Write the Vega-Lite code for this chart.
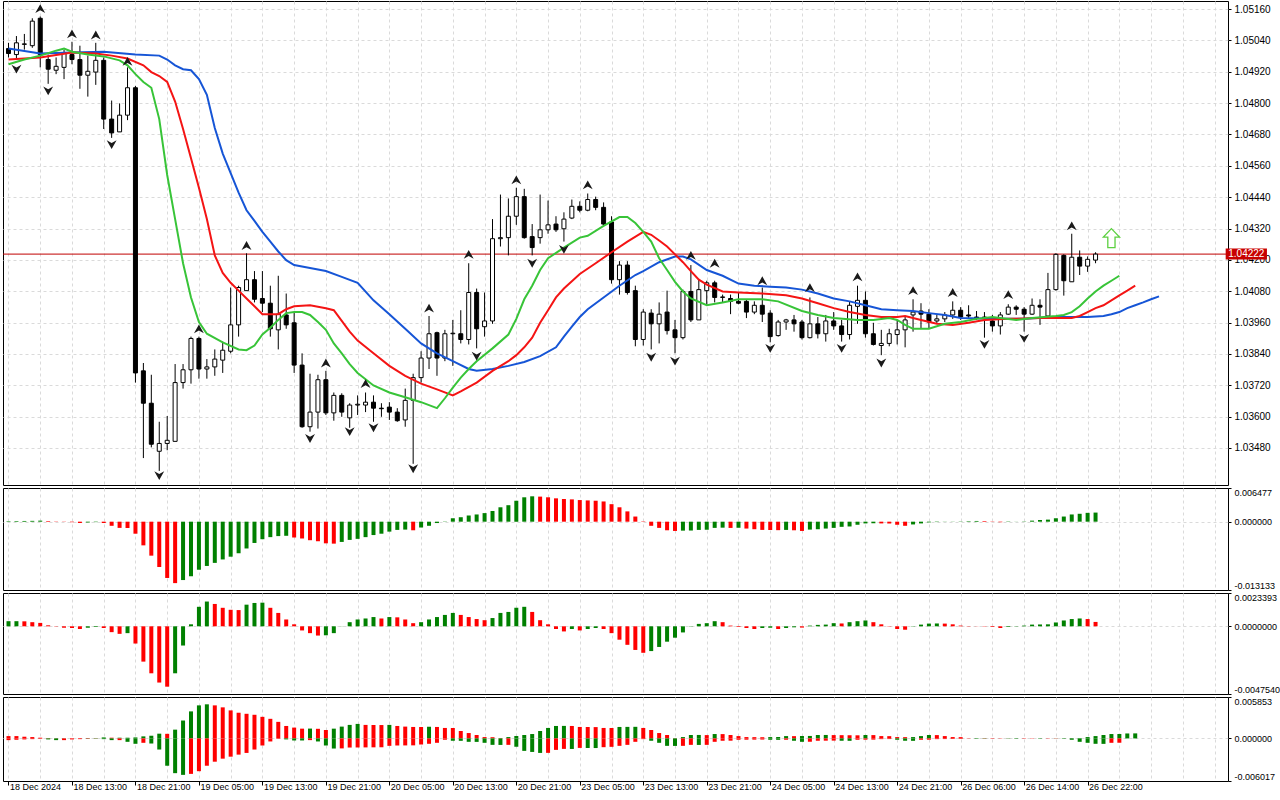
{
"$schema":"https://vega.github.io/schema/vega-lite/v6.json",
"background":"white",
"padding":{"left":2,"top":0,"right":0,"bottom":0},
"spacing":1,
"resolve":{"scale":{"color":"independent"}},
"config":{"view":{"stroke":"black","strokeWidth":1},"font":"Liberation Sans","axis":{"labelFont":"Liberation Sans","labelFontSize":9,"labelColor":"black","gridColor":"#dadada","gridDash":[3,3],"gridWidth":1,"tickColor":"black","domain":false,"labelOverlap":false,"labelSeparation":0}},
"datasets":{
"last":[{"price":1.04222}],
"signal":[{"i":139,"v":1.04283}],
"candles":[
{"i":0,"open":1.05009,"high":1.05031,"low":1.04975,"close":1.04990},
{"i":1,"open":1.04986,"high":1.05057,"low":1.04967,"close":1.05031},
{"i":2,"open":1.05025,"high":1.05065,"low":1.05005,"close":1.05027},
{"i":3,"open":1.05020,"high":1.05125,"low":1.05012,"close":1.05114},
{"i":4,"open":1.05125,"high":1.05132,"low":1.04937,"close":1.04986},
{"i":5,"open":1.04967,"high":1.04986,"low":1.04874,"close":1.04930},
{"i":6,"open":1.04926,"high":1.04975,"low":1.04911,"close":1.04941},
{"i":7,"open":1.04937,"high":1.05005,"low":1.04892,"close":1.04994},
{"i":8,"open":1.04986,"high":1.05035,"low":1.04949,"close":1.04967},
{"i":9,"open":1.04967,"high":1.05020,"low":1.04855,"close":1.04907},
{"i":10,"open":1.04907,"high":1.04982,"low":1.04825,"close":1.04922},
{"i":11,"open":1.04919,"high":1.05031,"low":1.04870,"close":1.04964},
{"i":12,"open":1.04964,"high":1.04975,"low":1.04701,"close":1.04739},
{"i":13,"open":1.04739,"high":1.04810,"low":1.04667,"close":1.04686},
{"i":14,"open":1.04690,"high":1.04799,"low":1.04690,"close":1.04754},
{"i":15,"open":1.04754,"high":1.04937,"low":1.04735,"close":1.04859},
{"i":16,"open":1.04859,"high":1.04866,"low":1.03730,"close":1.03767},
{"i":17,"open":1.03775,"high":1.03805,"low":1.03441,"close":1.03651},
{"i":18,"open":1.03651,"high":1.03760,"low":1.03482,"close":1.03494},
{"i":19,"open":1.03467,"high":1.03580,"low":1.03392,"close":1.03497},
{"i":20,"open":1.03497,"high":1.03602,"low":1.03471,"close":1.03509},
{"i":21,"open":1.03505,"high":1.03801,"low":1.03505,"close":1.03730},
{"i":22,"open":1.03730,"high":1.03801,"low":1.03707,"close":1.03779},
{"i":23,"open":1.03779,"high":1.03906,"low":1.03726,"close":1.03899},
{"i":24,"open":1.03899,"high":1.03906,"low":1.03745,"close":1.03782},
{"i":25,"open":1.03782,"high":1.03820,"low":1.03745,"close":1.03790},
{"i":26,"open":1.03790,"high":1.03857,"low":1.03756,"close":1.03820},
{"i":27,"open":1.03816,"high":1.03887,"low":1.03767,"close":1.03854},
{"i":28,"open":1.03850,"high":1.04094,"low":1.03842,"close":1.03951},
{"i":29,"open":1.03951,"high":1.04101,"low":1.03906,"close":1.04094},
{"i":30,"open":1.04082,"high":1.04225,"low":1.04082,"close":1.04124},
{"i":31,"open":1.04124,"high":1.04157,"low":1.04037,"close":1.04049},
{"i":32,"open":1.04052,"high":1.04157,"low":1.04000,"close":1.04034},
{"i":33,"open":1.04034,"high":1.04101,"low":1.03906,"close":1.03936},
{"i":34,"open":1.03932,"high":1.04139,"low":1.03857,"close":1.03992},
{"i":35,"open":1.03989,"high":1.04071,"low":1.03936,"close":1.03951},
{"i":36,"open":1.03959,"high":1.04000,"low":1.03767,"close":1.03797},
{"i":37,"open":1.03797,"high":1.03842,"low":1.03557,"close":1.03561},
{"i":38,"open":1.03561,"high":1.03764,"low":1.03542,"close":1.03617},
{"i":39,"open":1.03617,"high":1.03760,"low":1.03554,"close":1.03741},
{"i":40,"open":1.03741,"high":1.03775,"low":1.03606,"close":1.03614},
{"i":41,"open":1.03614,"high":1.03692,"low":1.03584,"close":1.03681},
{"i":42,"open":1.03681,"high":1.03689,"low":1.03599,"close":1.03617},
{"i":43,"open":1.03595,"high":1.03651,"low":1.03557,"close":1.03644},
{"i":44,"open":1.03644,"high":1.03681,"low":1.03606,"close":1.03647},
{"i":45,"open":1.03644,"high":1.03692,"low":1.03617,"close":1.03655},
{"i":46,"open":1.03655,"high":1.03681,"low":1.03580,"close":1.03632},
{"i":47,"open":1.03632,"high":1.03651,"low":1.03599,"close":1.03630},
{"i":48,"open":1.03636,"high":1.03655,"low":1.03587,"close":1.03617},
{"i":49,"open":1.03617,"high":1.03632,"low":1.03580,"close":1.03584},
{"i":50,"open":1.03587,"high":1.03707,"low":1.03561,"close":1.03662},
{"i":51,"open":1.03662,"high":1.03764,"low":1.03419,"close":1.03749},
{"i":52,"open":1.03749,"high":1.03850,"low":1.03730,"close":1.03824},
{"i":53,"open":1.03824,"high":1.03985,"low":1.03782,"close":1.03917},
{"i":54,"open":1.03921,"high":1.03925,"low":1.03756,"close":1.03824},
{"i":55,"open":1.03824,"high":1.03932,"low":1.03812,"close":1.03917},
{"i":56,"open":1.03917,"high":1.03970,"low":1.03794,"close":1.03919},
{"i":57,"open":1.03917,"high":1.04007,"low":1.03880,"close":1.03895},
{"i":58,"open":1.03895,"high":1.04187,"low":1.03876,"close":1.04075},
{"i":59,"open":1.04075,"high":1.04090,"low":1.03861,"close":1.03936},
{"i":60,"open":1.03944,"high":1.04075,"low":1.03906,"close":1.03966},
{"i":61,"open":1.03966,"high":1.04356,"low":1.03955,"close":1.04281},
{"i":62,"open":1.04281,"high":1.04450,"low":1.04251,"close":1.04285},
{"i":63,"open":1.04285,"high":1.04435,"low":1.04217,"close":1.04367},
{"i":64,"open":1.04367,"high":1.04476,"low":1.04334,"close":1.04442},
{"i":65,"open":1.04442,"high":1.04472,"low":1.04281,"close":1.04285},
{"i":66,"open":1.04289,"high":1.04337,"low":1.04217,"close":1.04247},
{"i":67,"open":1.04285,"high":1.04450,"low":1.04262,"close":1.04315},
{"i":68,"open":1.04315,"high":1.04427,"low":1.04300,"close":1.04334},
{"i":69,"open":1.04337,"high":1.04367,"low":1.04307,"close":1.04315},
{"i":70,"open":1.04319,"high":1.04382,"low":1.04270,"close":1.04356},
{"i":71,"open":1.04360,"high":1.04431,"low":1.04356,"close":1.04405},
{"i":72,"open":1.04405,"high":1.04424,"low":1.04382,"close":1.04390},
{"i":73,"open":1.04390,"high":1.04454,"low":1.04386,"close":1.04431},
{"i":74,"open":1.04431,"high":1.04442,"low":1.04390,"close":1.04401},
{"i":75,"open":1.04401,"high":1.04420,"low":1.04330,"close":1.04337},
{"i":76,"open":1.04345,"high":1.04367,"low":1.04109,"close":1.04124},
{"i":77,"open":1.04124,"high":1.04195,"low":1.04067,"close":1.04180},
{"i":78,"open":1.04180,"high":1.04195,"low":1.04067,"close":1.04075},
{"i":79,"open":1.04082,"high":1.04101,"low":1.03869,"close":1.03895},
{"i":80,"open":1.03895,"high":1.04011,"low":1.03872,"close":1.04000},
{"i":81,"open":1.03996,"high":1.04011,"low":1.03857,"close":1.03955},
{"i":82,"open":1.03955,"high":1.04037,"low":1.03880,"close":1.03992},
{"i":83,"open":1.04000,"high":1.04082,"low":1.03914,"close":1.03929},
{"i":84,"open":1.03932,"high":1.03970,"low":1.03842,"close":1.03902},
{"i":85,"open":1.03902,"high":1.04086,"low":1.03895,"close":1.04079},
{"i":86,"open":1.04079,"high":1.04180,"low":1.03962,"close":1.03970},
{"i":87,"open":1.03970,"high":1.04124,"low":1.03970,"close":1.04086},
{"i":88,"open":1.04082,"high":1.04120,"low":1.04026,"close":1.04112},
{"i":89,"open":1.04112,"high":1.04120,"low":1.04037,"close":1.04056},
{"i":90,"open":1.04056,"high":1.04067,"low":1.04037,"close":1.04058},
{"i":91,"open":1.04052,"high":1.04067,"low":1.03992,"close":1.04041},
{"i":92,"open":1.04041,"high":1.04075,"low":1.04030,"close":1.04034},
{"i":93,"open":1.04041,"high":1.04049,"low":1.03977,"close":1.04000},
{"i":94,"open":1.04000,"high":1.04041,"low":1.03992,"close":1.04026},
{"i":95,"open":1.04026,"high":1.04094,"low":1.03962,"close":1.03992},
{"i":96,"open":1.03996,"high":1.04007,"low":1.03884,"close":1.03906},
{"i":97,"open":1.03910,"high":1.03970,"low":1.03906,"close":1.03962},
{"i":98,"open":1.03962,"high":1.03974,"low":1.03932,"close":1.03970},
{"i":99,"open":1.03970,"high":1.03989,"low":1.03925,"close":1.03955},
{"i":100,"open":1.03962,"high":1.03970,"low":1.03895,"close":1.03902},
{"i":101,"open":1.03902,"high":1.04056,"low":1.03899,"close":1.03955},
{"i":102,"open":1.03955,"high":1.03981,"low":1.03899,"close":1.03917},
{"i":103,"open":1.03917,"high":1.03989,"low":1.03887,"close":1.03966},
{"i":104,"open":1.03966,"high":1.04000,"low":1.03932,"close":1.03947},
{"i":105,"open":1.03947,"high":1.03970,"low":1.03887,"close":1.03914},
{"i":106,"open":1.03914,"high":1.04041,"low":1.03895,"close":1.04026},
{"i":107,"open":1.04022,"high":1.04101,"low":1.03955,"close":1.04045},
{"i":108,"open":1.04045,"high":1.04079,"low":1.03902,"close":1.03917},
{"i":109,"open":1.03917,"high":1.03959,"low":1.03872,"close":1.03876},
{"i":110,"open":1.03872,"high":1.03932,"low":1.03835,"close":1.03880},
{"i":111,"open":1.03880,"high":1.03936,"low":1.03869,"close":1.03917},
{"i":112,"open":1.03914,"high":1.03970,"low":1.03876,"close":1.03932},
{"i":113,"open":1.03932,"high":1.03985,"low":1.03865,"close":1.03970},
{"i":114,"open":1.03989,"high":1.04049,"low":1.03925,"close":1.04000},
{"i":115,"open":1.04004,"high":1.04034,"low":1.03936,"close":1.03992},
{"i":116,"open":1.03992,"high":1.04011,"low":1.03936,"close":1.03962},
{"i":117,"open":1.03966,"high":1.03989,"low":1.03955,"close":1.03974},
{"i":118,"open":1.03974,"high":1.04000,"low":1.03962,"close":1.03989},
{"i":119,"open":1.03989,"high":1.04041,"low":1.03974,"close":1.04007},
{"i":120,"open":1.04007,"high":1.04019,"low":1.03970,"close":1.03981},
{"i":121,"open":1.03989,"high":1.04026,"low":1.03974,"close":1.03985},
{"i":122,"open":1.03981,"high":1.04004,"low":1.03970,"close":1.03977},
{"i":123,"open":1.03981,"high":1.04000,"low":1.03902,"close":1.03977},
{"i":124,"open":1.03966,"high":1.03989,"low":1.03925,"close":1.03947},
{"i":125,"open":1.03947,"high":1.04000,"low":1.03914,"close":1.03989},
{"i":126,"open":1.03992,"high":1.04030,"low":1.03989,"close":1.04019},
{"i":127,"open":1.04019,"high":1.04026,"low":1.03989,"close":1.04011},
{"i":128,"open":1.04011,"high":1.04019,"low":1.03925,"close":1.03992},
{"i":129,"open":1.03992,"high":1.04052,"low":1.03989,"close":1.04026},
{"i":130,"open":1.04026,"high":1.04049,"low":1.03951,"close":1.04019},
{"i":131,"open":1.03985,"high":1.04150,"low":1.03985,"close":1.04086},
{"i":132,"open":1.04086,"high":1.04225,"low":1.04082,"close":1.04221},
{"i":133,"open":1.04217,"high":1.04221,"low":1.04063,"close":1.04120},
{"i":134,"open":1.04116,"high":1.04300,"low":1.04116,"close":1.04210},
{"i":135,"open":1.04210,"high":1.04236,"low":1.04142,"close":1.04176},
{"i":136,"open":1.04176,"high":1.04213,"low":1.04154,"close":1.04202},
{"i":137,"open":1.04199,"high":1.04229,"low":1.04187,"close":1.04222}
],
"alligator":[
{"i":0,"v":1.05009,"line":"jaw"},{"i":4,"v":1.04990,"line":"jaw"},{"i":8,"v":1.04994,"line":"jaw"},{"i":12,"v":1.04997,"line":"jaw"},{"i":16,"v":1.04986,"line":"jaw"},{"i":19,"v":1.04982,"line":"jaw"},{"i":20,"v":1.04967,"line":"jaw"},{"i":21,"v":1.04945,"line":"jaw"},{"i":22,"v":1.04930,"line":"jaw"},{"i":23,"v":1.04926,"line":"jaw"},{"i":24,"v":1.04892,"line":"jaw"},{"i":25,"v":1.04832,"line":"jaw"},{"i":26,"v":1.04705,"line":"jaw"},{"i":27,"v":1.04607,"line":"jaw"},{"i":28,"v":1.04532,"line":"jaw"},{"i":29,"v":1.04457,"line":"jaw"},{"i":30,"v":1.04390,"line":"jaw"},{"i":31,"v":1.04349,"line":"jaw"},{"i":32,"v":1.04307,"line":"jaw"},{"i":33,"v":1.04270,"line":"jaw"},{"i":34,"v":1.04232,"line":"jaw"},{"i":35,"v":1.04199,"line":"jaw"},{"i":36,"v":1.04180,"line":"jaw"},{"i":38,"v":1.04169,"line":"jaw"},{"i":40,"v":1.04157,"line":"jaw"},{"i":42,"v":1.04135,"line":"jaw"},{"i":44,"v":1.04112,"line":"jaw"},{"i":46,"v":1.04045,"line":"jaw"},{"i":48,"v":1.03992,"line":"jaw"},{"i":50,"v":1.03936,"line":"jaw"},{"i":52,"v":1.03880,"line":"jaw"},{"i":54,"v":1.03842,"line":"jaw"},{"i":56,"v":1.03812,"line":"jaw"},{"i":58,"v":1.03782,"line":"jaw"},{"i":59,"v":1.03775,"line":"jaw"},{"i":61,"v":1.03782,"line":"jaw"},{"i":63,"v":1.03794,"line":"jaw"},{"i":65,"v":1.03809,"line":"jaw"},{"i":67,"v":1.03831,"line":"jaw"},{"i":69,"v":1.03865,"line":"jaw"},{"i":70,"v":1.03906,"line":"jaw"},{"i":71,"v":1.03944,"line":"jaw"},{"i":72,"v":1.03981,"line":"jaw"},{"i":73,"v":1.04011,"line":"jaw"},{"i":75,"v":1.04056,"line":"jaw"},{"i":77,"v":1.04101,"line":"jaw"},{"i":79,"v":1.04142,"line":"jaw"},{"i":80,"v":1.04157,"line":"jaw"},{"i":82,"v":1.04191,"line":"jaw"},{"i":84,"v":1.04213,"line":"jaw"},{"i":85,"v":1.04213,"line":"jaw"},{"i":86,"v":1.04202,"line":"jaw"},{"i":88,"v":1.04161,"line":"jaw"},{"i":90,"v":1.04139,"line":"jaw"},{"i":92,"v":1.04109,"line":"jaw"},{"i":94,"v":1.04101,"line":"jaw"},{"i":96,"v":1.04097,"line":"jaw"},{"i":98,"v":1.04094,"line":"jaw"},{"i":100,"v":1.04086,"line":"jaw"},{"i":102,"v":1.04071,"line":"jaw"},{"i":104,"v":1.04052,"line":"jaw"},{"i":106,"v":1.04041,"line":"jaw"},{"i":108,"v":1.04026,"line":"jaw"},{"i":110,"v":1.04011,"line":"jaw"},{"i":112,"v":1.04007,"line":"jaw"},{"i":114,"v":1.04004,"line":"jaw"},{"i":116,"v":1.03996,"line":"jaw"},{"i":118,"v":1.03989,"line":"jaw"},{"i":120,"v":1.03977,"line":"jaw"},{"i":124,"v":1.03974,"line":"jaw"},{"i":128,"v":1.03974,"line":"jaw"},{"i":132,"v":1.03981,"line":"jaw"},{"i":136,"v":1.03981,"line":"jaw"},{"i":138,"v":1.03985,"line":"jaw"},{"i":139,"v":1.03992,"line":"jaw"},{"i":140,"v":1.04000,"line":"jaw"},{"i":141,"v":1.04015,"line":"jaw"},{"i":142,"v":1.04026,"line":"jaw"},{"i":143,"v":1.04037,"line":"jaw"},{"i":144,"v":1.04049,"line":"jaw"},{"i":145,"v":1.04060,"line":"jaw"},
{"i":0,"v":1.04967,"line":"teeth"},{"i":4,"v":1.04975,"line":"teeth"},{"i":8,"v":1.04994,"line":"teeth"},{"i":11,"v":1.04990,"line":"teeth"},{"i":13,"v":1.04982,"line":"teeth"},{"i":15,"v":1.04971,"line":"teeth"},{"i":17,"v":1.04945,"line":"teeth"},{"i":18,"v":1.04919,"line":"teeth"},{"i":19,"v":1.04904,"line":"teeth"},{"i":20,"v":1.04881,"line":"teeth"},{"i":21,"v":1.04806,"line":"teeth"},{"i":22,"v":1.04701,"line":"teeth"},{"i":23,"v":1.04589,"line":"teeth"},{"i":24,"v":1.04476,"line":"teeth"},{"i":25,"v":1.04356,"line":"teeth"},{"i":26,"v":1.04217,"line":"teeth"},{"i":27,"v":1.04150,"line":"teeth"},{"i":28,"v":1.04112,"line":"teeth"},{"i":29,"v":1.04082,"line":"teeth"},{"i":30,"v":1.04052,"line":"teeth"},{"i":31,"v":1.04022,"line":"teeth"},{"i":32,"v":1.03992,"line":"teeth"},{"i":34,"v":1.03992,"line":"teeth"},{"i":35,"v":1.04011,"line":"teeth"},{"i":36,"v":1.04022,"line":"teeth"},{"i":38,"v":1.04026,"line":"teeth"},{"i":40,"v":1.04015,"line":"teeth"},{"i":41,"v":1.04007,"line":"teeth"},{"i":42,"v":1.03966,"line":"teeth"},{"i":43,"v":1.03925,"line":"teeth"},{"i":44,"v":1.03891,"line":"teeth"},{"i":46,"v":1.03842,"line":"teeth"},{"i":48,"v":1.03794,"line":"teeth"},{"i":50,"v":1.03756,"line":"teeth"},{"i":52,"v":1.03726,"line":"teeth"},{"i":54,"v":1.03704,"line":"teeth"},{"i":56,"v":1.03681,"line":"teeth"},{"i":57,"v":1.03696,"line":"teeth"},{"i":59,"v":1.03730,"line":"teeth"},{"i":61,"v":1.03775,"line":"teeth"},{"i":63,"v":1.03812,"line":"teeth"},{"i":64,"v":1.03835,"line":"teeth"},{"i":65,"v":1.03865,"line":"teeth"},{"i":66,"v":1.03902,"line":"teeth"},{"i":67,"v":1.03959,"line":"teeth"},{"i":68,"v":1.04007,"line":"teeth"},{"i":69,"v":1.04056,"line":"teeth"},{"i":70,"v":1.04090,"line":"teeth"},{"i":72,"v":1.04146,"line":"teeth"},{"i":74,"v":1.04187,"line":"teeth"},{"i":76,"v":1.04229,"line":"teeth"},{"i":78,"v":1.04270,"line":"teeth"},{"i":80,"v":1.04307,"line":"teeth"},{"i":81,"v":1.04296,"line":"teeth"},{"i":82,"v":1.04274,"line":"teeth"},{"i":83,"v":1.04251,"line":"teeth"},{"i":84,"v":1.04221,"line":"teeth"},{"i":85,"v":1.04191,"line":"teeth"},{"i":86,"v":1.04157,"line":"teeth"},{"i":87,"v":1.04124,"line":"teeth"},{"i":88,"v":1.04105,"line":"teeth"},{"i":90,"v":1.04079,"line":"teeth"},{"i":92,"v":1.04075,"line":"teeth"},{"i":95,"v":1.04071,"line":"teeth"},{"i":98,"v":1.04064,"line":"teeth"},{"i":100,"v":1.04052,"line":"teeth"},{"i":102,"v":1.04034,"line":"teeth"},{"i":104,"v":1.04015,"line":"teeth"},{"i":106,"v":1.04000,"line":"teeth"},{"i":108,"v":1.03989,"line":"teeth"},{"i":110,"v":1.03981,"line":"teeth"},{"i":112,"v":1.03981,"line":"teeth"},{"i":113,"v":1.03985,"line":"teeth"},{"i":115,"v":1.03970,"line":"teeth"},{"i":117,"v":1.03955,"line":"teeth"},{"i":119,"v":1.03951,"line":"teeth"},{"i":121,"v":1.03959,"line":"teeth"},{"i":123,"v":1.03970,"line":"teeth"},{"i":126,"v":1.03974,"line":"teeth"},{"i":130,"v":1.03977,"line":"teeth"},{"i":134,"v":1.03977,"line":"teeth"},{"i":135,"v":1.03985,"line":"teeth"},{"i":136,"v":1.04000,"line":"teeth"},{"i":137,"v":1.04015,"line":"teeth"},{"i":138,"v":1.04026,"line":"teeth"},{"i":139,"v":1.04045,"line":"teeth"},{"i":140,"v":1.04064,"line":"teeth"},{"i":141,"v":1.04082,"line":"teeth"},{"i":142,"v":1.04101,"line":"teeth"},
{"i":0,"v":1.04949,"line":"lips"},{"i":2,"v":1.04967,"line":"lips"},{"i":4,"v":1.04982,"line":"lips"},{"i":6,"v":1.05001,"line":"lips"},{"i":7,"v":1.05009,"line":"lips"},{"i":8,"v":1.04997,"line":"lips"},{"i":10,"v":1.04986,"line":"lips"},{"i":12,"v":1.04979,"line":"lips"},{"i":14,"v":1.04964,"line":"lips"},{"i":15,"v":1.04945,"line":"lips"},{"i":16,"v":1.04911,"line":"lips"},{"i":17,"v":1.04881,"line":"lips"},{"i":18,"v":1.04859,"line":"lips"},{"i":19,"v":1.04739,"line":"lips"},{"i":20,"v":1.04525,"line":"lips"},{"i":21,"v":1.04356,"line":"lips"},{"i":22,"v":1.04187,"line":"lips"},{"i":23,"v":1.04056,"line":"lips"},{"i":24,"v":1.03962,"line":"lips"},{"i":25,"v":1.03917,"line":"lips"},{"i":27,"v":1.03884,"line":"lips"},{"i":29,"v":1.03857,"line":"lips"},{"i":30,"v":1.03854,"line":"lips"},{"i":31,"v":1.03872,"line":"lips"},{"i":32,"v":1.03914,"line":"lips"},{"i":33,"v":1.03940,"line":"lips"},{"i":34,"v":1.03970,"line":"lips"},{"i":35,"v":1.03996,"line":"lips"},{"i":36,"v":1.04000,"line":"lips"},{"i":37,"v":1.04000,"line":"lips"},{"i":38,"v":1.03989,"line":"lips"},{"i":39,"v":1.03962,"line":"lips"},{"i":40,"v":1.03932,"line":"lips"},{"i":41,"v":1.03880,"line":"lips"},{"i":42,"v":1.03842,"line":"lips"},{"i":43,"v":1.03801,"line":"lips"},{"i":44,"v":1.03767,"line":"lips"},{"i":46,"v":1.03719,"line":"lips"},{"i":48,"v":1.03692,"line":"lips"},{"i":50,"v":1.03674,"line":"lips"},{"i":52,"v":1.03655,"line":"lips"},{"i":54,"v":1.03632,"line":"lips"},{"i":55,"v":1.03670,"line":"lips"},{"i":56,"v":1.03711,"line":"lips"},{"i":57,"v":1.03749,"line":"lips"},{"i":58,"v":1.03782,"line":"lips"},{"i":59,"v":1.03812,"line":"lips"},{"i":61,"v":1.03861,"line":"lips"},{"i":63,"v":1.03914,"line":"lips"},{"i":64,"v":1.03974,"line":"lips"},{"i":65,"v":1.04049,"line":"lips"},{"i":66,"v":1.04101,"line":"lips"},{"i":67,"v":1.04161,"line":"lips"},{"i":68,"v":1.04206,"line":"lips"},{"i":70,"v":1.04247,"line":"lips"},{"i":72,"v":1.04285,"line":"lips"},{"i":73,"v":1.04292,"line":"lips"},{"i":75,"v":1.04330,"line":"lips"},{"i":77,"v":1.04364,"line":"lips"},{"i":78,"v":1.04364,"line":"lips"},{"i":79,"v":1.04341,"line":"lips"},{"i":80,"v":1.04307,"line":"lips"},{"i":81,"v":1.04270,"line":"lips"},{"i":82,"v":1.04206,"line":"lips"},{"i":83,"v":1.04161,"line":"lips"},{"i":84,"v":1.04116,"line":"lips"},{"i":85,"v":1.04079,"line":"lips"},{"i":86,"v":1.04052,"line":"lips"},{"i":88,"v":1.04026,"line":"lips"},{"i":90,"v":1.04037,"line":"lips"},{"i":92,"v":1.04049,"line":"lips"},{"i":95,"v":1.04049,"line":"lips"},{"i":97,"v":1.04041,"line":"lips"},{"i":100,"v":1.04004,"line":"lips"},{"i":102,"v":1.03989,"line":"lips"},{"i":104,"v":1.03977,"line":"lips"},{"i":107,"v":1.03970,"line":"lips"},{"i":109,"v":1.03970,"line":"lips"},{"i":111,"v":1.03977,"line":"lips"},{"i":112,"v":1.03970,"line":"lips"},{"i":113,"v":1.03951,"line":"lips"},{"i":114,"v":1.03936,"line":"lips"},{"i":116,"v":1.03936,"line":"lips"},{"i":118,"v":1.03955,"line":"lips"},{"i":120,"v":1.03962,"line":"lips"},{"i":122,"v":1.03974,"line":"lips"},{"i":124,"v":1.03981,"line":"lips"},{"i":127,"v":1.03970,"line":"lips"},{"i":129,"v":1.03977,"line":"lips"},{"i":132,"v":1.03985,"line":"lips"},{"i":133,"v":1.03989,"line":"lips"},{"i":134,"v":1.04000,"line":"lips"},{"i":135,"v":1.04022,"line":"lips"},{"i":136,"v":1.04052,"line":"lips"},{"i":137,"v":1.04079,"line":"lips"},{"i":138,"v":1.04101,"line":"lips"},{"i":139,"v":1.04120,"line":"lips"},{"i":140,"v":1.04139,"line":"lips"}
],
"fractals":[
{"i":4,"v":1.05162,"type":"up"},{"i":8,"v":1.05065,"type":"up"},{"i":11,"v":1.05061,"type":"up"},{"i":15,"v":1.04960,"type":"up"},{"i":24,"v":1.03936,"type":"up"},{"i":30,"v":1.04255,"type":"up"},{"i":40,"v":1.03805,"type":"up"},{"i":45,"v":1.03726,"type":"up"},{"i":53,"v":1.04015,"type":"up"},{"i":58,"v":1.04221,"type":"up"},{"i":64,"v":1.04506,"type":"up"},{"i":73,"v":1.04487,"type":"up"},{"i":86,"v":1.04217,"type":"up"},{"i":89,"v":1.04187,"type":"up"},{"i":95,"v":1.04120,"type":"up"},{"i":101,"v":1.04094,"type":"up"},{"i":107,"v":1.04135,"type":"up"},{"i":114,"v":1.04082,"type":"up"},{"i":119,"v":1.04075,"type":"up"},{"i":126,"v":1.04067,"type":"up"},{"i":134,"v":1.04330,"type":"up"},
{"i":1,"v":1.04930,"type":"down"},{"i":5,"v":1.04847,"type":"down"},{"i":13,"v":1.04641,"type":"down"},{"i":19,"v":1.03374,"type":"down"},{"i":38,"v":1.03516,"type":"down"},{"i":43,"v":1.03542,"type":"down"},{"i":46,"v":1.03557,"type":"down"},{"i":51,"v":1.03400,"type":"down"},{"i":59,"v":1.03831,"type":"down"},{"i":66,"v":1.04187,"type":"down"},{"i":70,"v":1.04240,"type":"down"},{"i":81,"v":1.03827,"type":"down"},{"i":84,"v":1.03812,"type":"down"},{"i":96,"v":1.03861,"type":"down"},{"i":105,"v":1.03861,"type":"down"},{"i":110,"v":1.03805,"type":"down"},{"i":123,"v":1.03876,"type":"down"},{"i":128,"v":1.03899,"type":"down"}
],
"ao":[
{"i":0,"v":0.0001,"dir":"up"},{"i":1,"v":0.00012,"dir":"up"},{"i":2,"v":0.00014,"dir":"up"},{"i":3,"v":0.00016,"dir":"up"},{"i":4,"v":0.0002,"dir":"up"},{"i":5,"v":0.00012,"dir":"down"},{"i":6,"v":0.00005,"dir":"down"},{"i":7,"v":0.00004,"dir":"down"},{"i":8,"v":-0.0001,"dir":"down"},{"i":9,"v":-0.00025,"dir":"down"},{"i":10,"v":-0.00015,"dir":"up"},{"i":11,"v":-0.00008,"dir":"up"},{"i":12,"v":-0.00025,"dir":"down"},{"i":13,"v":-0.00079,"dir":"down"},{"i":14,"v":-0.00119,"dir":"down"},{"i":15,"v":-0.00121,"dir":"down"},{"i":16,"v":-0.00231,"dir":"down"},{"i":17,"v":-0.00455,"dir":"down"},{"i":18,"v":-0.00653,"dir":"down"},{"i":19,"v":-0.00871,"dir":"down"},{"i":20,"v":-0.01082,"dir":"down"},{"i":21,"v":-0.01181,"dir":"down"},{"i":22,"v":-0.01122,"dir":"up"},{"i":23,"v":-0.01049,"dir":"up"},{"i":24,"v":-0.00924,"dir":"up"},{"i":25,"v":-0.00851,"dir":"up"},{"i":26,"v":-0.00792,"dir":"up"},{"i":27,"v":-0.00726,"dir":"up"},{"i":28,"v":-0.00673,"dir":"up"},{"i":29,"v":-0.00607,"dir":"up"},{"i":30,"v":-0.00515,"dir":"up"},{"i":31,"v":-0.00409,"dir":"up"},{"i":32,"v":-0.00337,"dir":"up"},{"i":33,"v":-0.00297,"dir":"up"},{"i":34,"v":-0.00277,"dir":"up"},{"i":35,"v":-0.00271,"dir":"up"},{"i":36,"v":-0.00304,"dir":"down"},{"i":37,"v":-0.00323,"dir":"down"},{"i":38,"v":-0.00356,"dir":"down"},{"i":39,"v":-0.00376,"dir":"down"},{"i":40,"v":-0.00416,"dir":"down"},{"i":41,"v":-0.00422,"dir":"down"},{"i":42,"v":-0.00389,"dir":"up"},{"i":43,"v":-0.0035,"dir":"up"},{"i":44,"v":-0.0033,"dir":"up"},{"i":45,"v":-0.00297,"dir":"up"},{"i":46,"v":-0.00257,"dir":"up"},{"i":47,"v":-0.00231,"dir":"up"},{"i":48,"v":-0.00191,"dir":"up"},{"i":49,"v":-0.00158,"dir":"up"},{"i":50,"v":-0.00152,"dir":"up"},{"i":51,"v":-0.00165,"dir":"down"},{"i":52,"v":-0.00112,"dir":"up"},{"i":53,"v":-0.00079,"dir":"up"},{"i":54,"v":-0.00026,"dir":"up"},{"i":55,"v":0.00005,"dir":"up"},{"i":56,"v":0.00066,"dir":"up"},{"i":57,"v":0.00086,"dir":"up"},{"i":58,"v":0.00119,"dir":"up"},{"i":59,"v":0.00139,"dir":"up"},{"i":60,"v":0.00165,"dir":"up"},{"i":61,"v":0.00205,"dir":"up"},{"i":62,"v":0.00277,"dir":"up"},{"i":63,"v":0.00317,"dir":"up"},{"i":64,"v":0.00403,"dir":"up"},{"i":65,"v":0.00469,"dir":"up"},{"i":66,"v":0.00488,"dir":"up"},{"i":67,"v":0.00482,"dir":"down"},{"i":68,"v":0.00469,"dir":"down"},{"i":69,"v":0.00449,"dir":"down"},{"i":70,"v":0.00436,"dir":"down"},{"i":71,"v":0.00429,"dir":"down"},{"i":72,"v":0.00416,"dir":"down"},{"i":73,"v":0.00409,"dir":"down"},{"i":74,"v":0.00403,"dir":"down"},{"i":75,"v":0.00389,"dir":"down"},{"i":76,"v":0.00337,"dir":"down"},{"i":77,"v":0.00277,"dir":"down"},{"i":78,"v":0.00198,"dir":"down"},{"i":79,"v":0.00099,"dir":"down"},{"i":80,"v":0.00007,"dir":"down"},{"i":81,"v":-0.00079,"dir":"down"},{"i":82,"v":-0.00119,"dir":"down"},{"i":83,"v":-0.00165,"dir":"down"},{"i":84,"v":-0.00178,"dir":"down"},{"i":85,"v":-0.00172,"dir":"up"},{"i":86,"v":-0.0017,"dir":"up"},{"i":87,"v":-0.00158,"dir":"up"},{"i":88,"v":-0.00155,"dir":"up"},{"i":89,"v":-0.00119,"dir":"up"},{"i":90,"v":-0.00115,"dir":"up"},{"i":91,"v":-0.0012,"dir":"down"},{"i":92,"v":-0.00117,"dir":"up"},{"i":93,"v":-0.00132,"dir":"down"},{"i":94,"v":-0.00145,"dir":"down"},{"i":95,"v":-0.00158,"dir":"down"},{"i":96,"v":-0.0016,"dir":"down"},{"i":97,"v":-0.00163,"dir":"down"},{"i":98,"v":-0.00158,"dir":"up"},{"i":99,"v":-0.00165,"dir":"down"},{"i":100,"v":-0.00178,"dir":"down"},{"i":101,"v":-0.00152,"dir":"up"},{"i":102,"v":-0.00145,"dir":"up"},{"i":103,"v":-0.00132,"dir":"up"},{"i":104,"v":-0.00119,"dir":"up"},{"i":105,"v":-0.00099,"dir":"up"},{"i":106,"v":-0.00092,"dir":"up"},{"i":107,"v":-0.00059,"dir":"up"},{"i":108,"v":-0.00033,"dir":"up"},{"i":109,"v":-0.0003,"dir":"up"},{"i":110,"v":-0.00033,"dir":"down"},{"i":111,"v":-0.00035,"dir":"down"},{"i":112,"v":-0.00059,"dir":"down"},{"i":113,"v":-0.00079,"dir":"down"},{"i":114,"v":-0.00053,"dir":"up"},{"i":115,"v":-0.00033,"dir":"up"},{"i":116,"v":-0.00013,"dir":"up"},{"i":117,"v":-0.00007,"dir":"up"},{"i":118,"v":-0.00003,"dir":"up"},{"i":119,"v":0.00003,"dir":"up"},{"i":120,"v":0.00005,"dir":"up"},{"i":121,"v":0.0001,"dir":"up"},{"i":122,"v":0.00014,"dir":"up"},{"i":123,"v":0.00012,"dir":"down"},{"i":124,"v":-0.00005,"dir":"down"},{"i":125,"v":-0.0001,"dir":"down"},{"i":126,"v":-0.00006,"dir":"up"},{"i":127,"v":-0.00002,"dir":"up"},{"i":128,"v":0.00005,"dir":"up"},{"i":129,"v":0.0002,"dir":"up"},{"i":130,"v":0.00033,"dir":"up"},{"i":131,"v":0.0004,"dir":"up"},{"i":132,"v":0.00066,"dir":"up"},{"i":133,"v":0.00099,"dir":"up"},{"i":134,"v":0.00139,"dir":"up"},{"i":135,"v":0.00152,"dir":"up"},{"i":136,"v":0.0017,"dir":"up"},{"i":137,"v":0.001752,"dir":"up"}
],
"ac":[
{"i":0,"v":0.00036,"dir":"up"},{"i":1,"v":0.00036,"dir":"up"},{"i":2,"v":0.00035,"dir":"down"},{"i":3,"v":0.00029,"dir":"down"},{"i":4,"v":0.00024,"dir":"down"},{"i":5,"v":0.00007,"dir":"down"},{"i":6,"v":-0.00002,"dir":"down"},{"i":7,"v":-0.0001,"dir":"down"},{"i":8,"v":-0.00012,"dir":"down"},{"i":9,"v":-0.00019,"dir":"down"},{"i":10,"v":-0.0001,"dir":"up"},{"i":11,"v":-0.00005,"dir":"up"},{"i":12,"v":-0.00012,"dir":"down"},{"i":13,"v":-0.00041,"dir":"down"},{"i":14,"v":-0.00053,"dir":"down"},{"i":15,"v":-0.00048,"dir":"up"},{"i":16,"v":-0.00121,"dir":"down"},{"i":17,"v":-0.00248,"dir":"down"},{"i":18,"v":-0.0033,"dir":"down"},{"i":19,"v":-0.00395,"dir":"down"},{"i":20,"v":-0.00424,"dir":"down"},{"i":21,"v":-0.0033,"dir":"up"},{"i":22,"v":-0.00135,"dir":"up"},{"i":23,"v":0.00014,"dir":"up"},{"i":24,"v":0.00137,"dir":"up"},{"i":25,"v":0.00174,"dir":"up"},{"i":26,"v":0.00157,"dir":"down"},{"i":27,"v":0.0013,"dir":"down"},{"i":28,"v":0.00116,"dir":"down"},{"i":29,"v":0.00114,"dir":"down"},{"i":30,"v":0.00152,"dir":"up"},{"i":31,"v":0.00164,"dir":"up"},{"i":32,"v":0.00166,"dir":"up"},{"i":33,"v":0.0013,"dir":"down"},{"i":34,"v":0.00094,"dir":"down"},{"i":35,"v":0.00048,"dir":"down"},{"i":36,"v":0.00014,"dir":"down"},{"i":37,"v":-0.00029,"dir":"down"},{"i":38,"v":-0.00048,"dir":"down"},{"i":39,"v":-0.00065,"dir":"down"},{"i":40,"v":-0.00063,"dir":"up"},{"i":41,"v":-0.00048,"dir":"up"},{"i":42,"v":0.00001,"dir":"up"},{"i":43,"v":0.00029,"dir":"up"},{"i":44,"v":0.00048,"dir":"up"},{"i":45,"v":0.00055,"dir":"up"},{"i":46,"v":0.00065,"dir":"up"},{"i":47,"v":0.00055,"dir":"down"},{"i":48,"v":0.00065,"dir":"up"},{"i":49,"v":0.00063,"dir":"down"},{"i":50,"v":0.00048,"dir":"down"},{"i":51,"v":0.00022,"dir":"down"},{"i":52,"v":0.00029,"dir":"up"},{"i":53,"v":0.00048,"dir":"up"},{"i":54,"v":0.00065,"dir":"up"},{"i":55,"v":0.0008,"dir":"up"},{"i":56,"v":0.00094,"dir":"up"},{"i":57,"v":0.0008,"dir":"down"},{"i":58,"v":0.00065,"dir":"down"},{"i":59,"v":0.00051,"dir":"down"},{"i":60,"v":0.00043,"dir":"down"},{"i":61,"v":0.00058,"dir":"up"},{"i":62,"v":0.00094,"dir":"up"},{"i":63,"v":0.00101,"dir":"up"},{"i":64,"v":0.0013,"dir":"up"},{"i":65,"v":0.00137,"dir":"up"},{"i":66,"v":0.00101,"dir":"down"},{"i":67,"v":0.00043,"dir":"down"},{"i":68,"v":0.00014,"dir":"down"},{"i":69,"v":-0.00019,"dir":"down"},{"i":70,"v":-0.00036,"dir":"down"},{"i":71,"v":-0.00019,"dir":"up"},{"i":72,"v":-0.00029,"dir":"down"},{"i":73,"v":-0.00019,"dir":"up"},{"i":74,"v":-0.00012,"dir":"up"},{"i":75,"v":-0.00019,"dir":"down"},{"i":76,"v":-0.00048,"dir":"down"},{"i":77,"v":-0.00094,"dir":"down"},{"i":78,"v":-0.0013,"dir":"down"},{"i":79,"v":-0.00166,"dir":"down"},{"i":80,"v":-0.00186,"dir":"down"},{"i":81,"v":-0.00174,"dir":"up"},{"i":82,"v":-0.00145,"dir":"up"},{"i":83,"v":-0.00108,"dir":"up"},{"i":84,"v":-0.0008,"dir":"up"},{"i":85,"v":-0.00043,"dir":"up"},{"i":86,"v":0.00002,"dir":"up"},{"i":87,"v":0.00017,"dir":"up"},{"i":88,"v":0.00022,"dir":"up"},{"i":89,"v":0.00036,"dir":"up"},{"i":90,"v":0.00029,"dir":"down"},{"i":91,"v":0.00005,"dir":"down"},{"i":92,"v":-0.00005,"dir":"down"},{"i":93,"v":-0.00012,"dir":"down"},{"i":94,"v":-0.00019,"dir":"down"},{"i":95,"v":-0.00012,"dir":"up"},{"i":96,"v":-0.0001,"dir":"up"},{"i":97,"v":-0.00019,"dir":"down"},{"i":98,"v":-0.00012,"dir":"up"},{"i":99,"v":-0.00007,"dir":"up"},{"i":100,"v":-0.00009,"dir":"down"},{"i":101,"v":0.00005,"dir":"up"},{"i":102,"v":0.0001,"dir":"up"},{"i":103,"v":0.00012,"dir":"up"},{"i":104,"v":0.00022,"dir":"up"},{"i":105,"v":0.0002,"dir":"down"},{"i":106,"v":0.00029,"dir":"up"},{"i":107,"v":0.00036,"dir":"up"},{"i":108,"v":0.00041,"dir":"up"},{"i":109,"v":0.00029,"dir":"down"},{"i":110,"v":0.00014,"dir":"down"},{"i":111,"v":0.00002,"dir":"down"},{"i":112,"v":-0.00019,"dir":"down"},{"i":113,"v":-0.00024,"dir":"down"},{"i":114,"v":-0.00002,"dir":"up"},{"i":115,"v":0.00012,"dir":"up"},{"i":116,"v":0.00019,"dir":"up"},{"i":117,"v":0.0002,"dir":"up"},{"i":118,"v":0.00019,"dir":"down"},{"i":119,"v":0.00014,"dir":"down"},{"i":120,"v":0.00005,"dir":"down"},{"i":121,"v":0.00002,"dir":"down"},{"i":122,"v":0.00001,"dir":"down"},{"i":123,"v":-0.00002,"dir":"down"},{"i":124,"v":-0.00005,"dir":"down"},{"i":125,"v":-0.00012,"dir":"down"},{"i":126,"v":-0.00005,"dir":"up"},{"i":127,"v":-0.00002,"dir":"up"},{"i":128,"v":0.00005,"dir":"up"},{"i":129,"v":0.00012,"dir":"up"},{"i":130,"v":0.00013,"dir":"up"},{"i":131,"v":0.00014,"dir":"up"},{"i":132,"v":0.00027,"dir":"up"},{"i":133,"v":0.00041,"dir":"up"},{"i":134,"v":0.00051,"dir":"up"},{"i":135,"v":0.00055,"dir":"up"},{"i":136,"v":0.00051,"dir":"down"},{"i":137,"v":0.0003077,"dir":"down"}
],
"gator":[
{"i":0,"v":0.00033,"dir":"down"},{"i":0,"v":-0.00024,"dir":"down"},{"i":1,"v":0.00033,"dir":"down"},{"i":1,"v":-0.00019,"dir":"down"},{"i":2,"v":0.00024,"dir":"down"},{"i":2,"v":-0.00014,"dir":"down"},{"i":3,"v":0.00019,"dir":"down"},{"i":3,"v":-0.0001,"dir":"down"},{"i":4,"v":0.0001,"dir":"down"},{"i":4,"v":-0.00005,"dir":"down"},{"i":5,"v":0.00005,"dir":"down"},{"i":5,"v":-0.00014,"dir":"up"},{"i":6,"v":0.00003,"dir":"down"},{"i":6,"v":-0.00024,"dir":"up"},{"i":7,"v":0.00003,"dir":"up"},{"i":7,"v":-0.00024,"dir":"down"},{"i":8,"v":0.00002,"dir":"down"},{"i":8,"v":-0.00014,"dir":"down"},{"i":9,"v":0.00002,"dir":"down"},{"i":9,"v":-0.0001,"dir":"down"},{"i":10,"v":0.00005,"dir":"up"},{"i":10,"v":-0.00005,"dir":"down"},{"i":11,"v":0.00003,"dir":"down"},{"i":11,"v":-0.00005,"dir":"up"},{"i":12,"v":0.00014,"dir":"up"},{"i":12,"v":-0.0001,"dir":"up"},{"i":13,"v":0.0001,"dir":"down"},{"i":13,"v":-0.00024,"dir":"up"},{"i":14,"v":0.0001,"dir":"up"},{"i":14,"v":-0.00024,"dir":"down"},{"i":15,"v":0.0001,"dir":"up"},{"i":15,"v":-0.00048,"dir":"up"},{"i":16,"v":0.00014,"dir":"up"},{"i":16,"v":-0.00076,"dir":"up"},{"i":17,"v":0.00029,"dir":"up"},{"i":17,"v":-0.00062,"dir":"down"},{"i":18,"v":0.00038,"dir":"up"},{"i":18,"v":-0.00072,"dir":"up"},{"i":19,"v":0.00067,"dir":"up"},{"i":19,"v":-0.00157,"dir":"up"},{"i":20,"v":0.00065,"dir":"down"},{"i":20,"v":-0.00386,"dir":"up"},{"i":21,"v":0.00124,"dir":"up"},{"i":21,"v":-0.00491,"dir":"up"},{"i":22,"v":0.00253,"dir":"up"},{"i":22,"v":-0.00515,"dir":"up"},{"i":23,"v":0.00382,"dir":"up"},{"i":23,"v":-0.00501,"dir":"down"},{"i":24,"v":0.00467,"dir":"up"},{"i":24,"v":-0.00463,"dir":"down"},{"i":25,"v":0.00482,"dir":"up"},{"i":25,"v":-0.00386,"dir":"down"},{"i":26,"v":0.00467,"dir":"down"},{"i":26,"v":-0.00329,"dir":"down"},{"i":27,"v":0.00439,"dir":"down"},{"i":27,"v":-0.00286,"dir":"down"},{"i":28,"v":0.00396,"dir":"down"},{"i":28,"v":-0.00258,"dir":"down"},{"i":29,"v":0.00363,"dir":"down"},{"i":29,"v":-0.00229,"dir":"down"},{"i":30,"v":0.00348,"dir":"down"},{"i":30,"v":-0.00205,"dir":"down"},{"i":31,"v":0.00334,"dir":"down"},{"i":31,"v":-0.00157,"dir":"down"},{"i":32,"v":0.00305,"dir":"down"},{"i":32,"v":-0.001,"dir":"down"},{"i":33,"v":0.00277,"dir":"down"},{"i":33,"v":-0.00043,"dir":"down"},{"i":34,"v":0.00234,"dir":"down"},{"i":34,"v":-0.00005,"dir":"down"},{"i":35,"v":0.00176,"dir":"down"},{"i":35,"v":-0.00014,"dir":"up"},{"i":36,"v":0.00153,"dir":"down"},{"i":36,"v":-0.00029,"dir":"up"},{"i":37,"v":0.00138,"dir":"down"},{"i":37,"v":-0.00029,"dir":"up"},{"i":38,"v":0.00139,"dir":"up"},{"i":38,"v":-0.00024,"dir":"down"},{"i":39,"v":0.00136,"dir":"down"},{"i":39,"v":-0.00043,"dir":"up"},{"i":40,"v":0.00119,"dir":"down"},{"i":40,"v":-0.001,"dir":"up"},{"i":41,"v":0.00138,"dir":"up"},{"i":41,"v":-0.00143,"dir":"up"},{"i":42,"v":0.00167,"dir":"up"},{"i":42,"v":-0.00141,"dir":"down"},{"i":43,"v":0.00191,"dir":"up"},{"i":43,"v":-0.00129,"dir":"down"},{"i":44,"v":0.00205,"dir":"up"},{"i":44,"v":-0.00128,"dir":"down"},{"i":45,"v":0.00191,"dir":"down"},{"i":45,"v":-0.00127,"dir":"down"},{"i":46,"v":0.0019,"dir":"down"},{"i":46,"v":-0.00126,"dir":"down"},{"i":47,"v":0.00189,"dir":"down"},{"i":47,"v":-0.00125,"dir":"down"},{"i":48,"v":0.00191,"dir":"up"},{"i":48,"v":-0.00105,"dir":"down"},{"i":49,"v":0.00176,"dir":"down"},{"i":49,"v":-0.001,"dir":"down"},{"i":50,"v":0.00167,"dir":"down"},{"i":50,"v":-0.00099,"dir":"down"},{"i":51,"v":0.00162,"dir":"down"},{"i":51,"v":-0.00098,"dir":"down"},{"i":52,"v":0.00161,"dir":"down"},{"i":52,"v":-0.00086,"dir":"down"},{"i":53,"v":0.00165,"dir":"up"},{"i":53,"v":-0.00076,"dir":"down"},{"i":54,"v":0.00162,"dir":"down"},{"i":54,"v":-0.00062,"dir":"down"},{"i":55,"v":0.00148,"dir":"down"},{"i":55,"v":-0.00019,"dir":"down"},{"i":56,"v":0.00147,"dir":"down"},{"i":56,"v":-0.00033,"dir":"up"},{"i":57,"v":0.00105,"dir":"down"},{"i":57,"v":-0.00034,"dir":"up"},{"i":58,"v":0.00076,"dir":"down"},{"i":58,"v":-0.00048,"dir":"up"},{"i":59,"v":0.00048,"dir":"down"},{"i":59,"v":-0.00049,"dir":"up"},{"i":60,"v":0.00019,"dir":"down"},{"i":60,"v":-0.00062,"dir":"up"},{"i":61,"v":0.00017,"dir":"down"},{"i":61,"v":-0.00091,"dir":"up"},{"i":62,"v":0.00005,"dir":"down"},{"i":62,"v":-0.00092,"dir":"up"},{"i":63,"v":0.00019,"dir":"up"},{"i":63,"v":-0.00091,"dir":"down"},{"i":64,"v":0.00033,"dir":"up"},{"i":64,"v":-0.00119,"dir":"up"},{"i":65,"v":0.00048,"dir":"up"},{"i":65,"v":-0.00176,"dir":"up"},{"i":66,"v":0.00062,"dir":"up"},{"i":66,"v":-0.00191,"dir":"up"},{"i":67,"v":0.00105,"dir":"up"},{"i":67,"v":-0.00205,"dir":"up"},{"i":68,"v":0.00148,"dir":"up"},{"i":68,"v":-0.00204,"dir":"down"},{"i":69,"v":0.00176,"dir":"up"},{"i":69,"v":-0.00162,"dir":"down"},{"i":70,"v":0.00177,"dir":"up"},{"i":70,"v":-0.00148,"dir":"down"},{"i":71,"v":0.00176,"dir":"down"},{"i":71,"v":-0.00149,"dir":"up"},{"i":72,"v":0.00162,"dir":"down"},{"i":72,"v":-0.00134,"dir":"down"},{"i":73,"v":0.00161,"dir":"down"},{"i":73,"v":-0.00135,"dir":"up"},{"i":74,"v":0.0016,"dir":"down"},{"i":74,"v":-0.00136,"dir":"up"},{"i":75,"v":0.00148,"dir":"down"},{"i":75,"v":-0.00124,"dir":"down"},{"i":76,"v":0.00147,"dir":"down"},{"i":76,"v":-0.00119,"dir":"down"},{"i":77,"v":0.00162,"dir":"up"},{"i":77,"v":-0.00105,"dir":"down"},{"i":78,"v":0.00163,"dir":"up"},{"i":78,"v":-0.00091,"dir":"down"},{"i":79,"v":0.00164,"dir":"up"},{"i":79,"v":-0.00048,"dir":"down"},{"i":80,"v":0.00148,"dir":"down"},{"i":80,"v":-0.0001,"dir":"down"},{"i":81,"v":0.00119,"dir":"down"},{"i":81,"v":-0.00033,"dir":"up"},{"i":82,"v":0.00076,"dir":"down"},{"i":82,"v":-0.00062,"dir":"up"},{"i":83,"v":0.00048,"dir":"down"},{"i":83,"v":-0.00105,"dir":"up"},{"i":84,"v":0.00003,"dir":"down"},{"i":84,"v":-0.00106,"dir":"up"},{"i":85,"v":0.00019,"dir":"up"},{"i":85,"v":-0.00105,"dir":"down"},{"i":86,"v":0.00048,"dir":"up"},{"i":86,"v":-0.00091,"dir":"down"},{"i":87,"v":0.00049,"dir":"up"},{"i":87,"v":-0.00092,"dir":"up"},{"i":88,"v":0.00047,"dir":"down"},{"i":88,"v":-0.00091,"dir":"down"},{"i":89,"v":0.00062,"dir":"up"},{"i":89,"v":-0.00048,"dir":"down"},{"i":90,"v":0.00061,"dir":"down"},{"i":90,"v":-0.00033,"dir":"down"},{"i":91,"v":0.00048,"dir":"down"},{"i":91,"v":-0.00032,"dir":"down"},{"i":92,"v":0.00033,"dir":"down"},{"i":92,"v":-0.00019,"dir":"down"},{"i":93,"v":0.00019,"dir":"down"},{"i":93,"v":-0.00018,"dir":"down"},{"i":94,"v":0.00018,"dir":"down"},{"i":94,"v":-0.00017,"dir":"down"},{"i":95,"v":0.00017,"dir":"down"},{"i":95,"v":-0.00016,"dir":"down"},{"i":96,"v":0.00019,"dir":"up"},{"i":96,"v":-0.00019,"dir":"up"},{"i":97,"v":0.0002,"dir":"up"},{"i":97,"v":-0.0002,"dir":"up"},{"i":98,"v":0.00033,"dir":"up"},{"i":98,"v":-0.00019,"dir":"down"},{"i":99,"v":0.00032,"dir":"down"},{"i":99,"v":-0.00033,"dir":"up"},{"i":100,"v":0.00034,"dir":"up"},{"i":100,"v":-0.00048,"dir":"up"},{"i":101,"v":0.00035,"dir":"up"},{"i":101,"v":-0.00047,"dir":"down"},{"i":102,"v":0.00048,"dir":"up"},{"i":102,"v":-0.00033,"dir":"down"},{"i":103,"v":0.00049,"dir":"up"},{"i":103,"v":-0.00032,"dir":"down"},{"i":104,"v":0.00047,"dir":"down"},{"i":104,"v":-0.00031,"dir":"down"},{"i":105,"v":0.00046,"dir":"down"},{"i":105,"v":-0.00033,"dir":"up"},{"i":106,"v":0.00045,"dir":"down"},{"i":106,"v":-0.00034,"dir":"up"},{"i":107,"v":0.00044,"dir":"down"},{"i":107,"v":-0.00019,"dir":"down"},{"i":108,"v":0.00048,"dir":"up"},{"i":108,"v":-0.00018,"dir":"down"},{"i":109,"v":0.00047,"dir":"down"},{"i":109,"v":-0.00017,"dir":"down"},{"i":110,"v":0.00033,"dir":"down"},{"i":110,"v":-0.0001,"dir":"down"},{"i":111,"v":0.00032,"dir":"down"},{"i":111,"v":-0.00009,"dir":"down"},{"i":112,"v":0.00019,"dir":"down"},{"i":112,"v":-0.00019,"dir":"up"},{"i":113,"v":0.00018,"dir":"down"},{"i":113,"v":-0.00033,"dir":"up"},{"i":114,"v":0.00019,"dir":"up"},{"i":114,"v":-0.00034,"dir":"up"},{"i":115,"v":0.00033,"dir":"up"},{"i":115,"v":-0.00019,"dir":"down"},{"i":116,"v":0.00048,"dir":"up"},{"i":116,"v":-0.00018,"dir":"down"},{"i":117,"v":0.00047,"dir":"down"},{"i":117,"v":-0.0001,"dir":"down"},{"i":118,"v":0.00033,"dir":"down"},{"i":118,"v":-0.00009,"dir":"down"},{"i":119,"v":0.00019,"dir":"down"},{"i":119,"v":-0.00008,"dir":"down"},{"i":120,"v":0.00018,"dir":"down"},{"i":120,"v":-0.00007,"dir":"down"},{"i":121,"v":0.00002,"dir":"down"},{"i":121,"v":-0.00002,"dir":"down"},{"i":122,"v":0.00004,"dir":"up"},{"i":122,"v":-0.00004,"dir":"up"},{"i":123,"v":0.00005,"dir":"up"},{"i":123,"v":-0.00003,"dir":"down"},{"i":124,"v":0.00003,"dir":"down"},{"i":124,"v":-0.00003,"dir":"down"},{"i":125,"v":0.00002,"dir":"down"},{"i":125,"v":-0.00002,"dir":"down"},{"i":126,"v":0.00001,"dir":"down"},{"i":126,"v":-0.00004,"dir":"up"},{"i":127,"v":0.00002,"dir":"up"},{"i":127,"v":-0.00005,"dir":"up"},{"i":128,"v":0.00001,"dir":"down"},{"i":128,"v":-0.00004,"dir":"down"},{"i":129,"v":0.00001,"dir":"down"},{"i":129,"v":-0.00003,"dir":"down"},{"i":130,"v":0.00002,"dir":"up"},{"i":130,"v":-0.00004,"dir":"up"},{"i":131,"v":0.00001,"dir":"down"},{"i":131,"v":-0.00003,"dir":"down"},{"i":132,"v":0.00002,"dir":"up"},{"i":132,"v":-0.00003,"dir":"down"},{"i":133,"v":0.00002,"dir":"up"},{"i":133,"v":-0.00005,"dir":"up"},{"i":134,"v":0.00003,"dir":"up"},{"i":134,"v":-0.00019,"dir":"up"},{"i":135,"v":0.00004,"dir":"up"},{"i":135,"v":-0.00048,"dir":"up"},{"i":136,"v":0.00019,"dir":"up"},{"i":136,"v":-0.00062,"dir":"up"},{"i":137,"v":0.00033,"dir":"up"},{"i":137,"v":-0.00076,"dir":"up"},{"i":138,"v":0.00048,"dir":"up"},{"i":138,"v":-0.00077,"dir":"up"},{"i":139,"v":0.00062,"dir":"up"},{"i":139,"v":-0.00062,"dir":"down"},{"i":140,"v":0.00063,"dir":"up"},{"i":140,"v":-0.00061,"dir":"down"},{"i":141,"v":0.0007,"dir":"up"},{"i":142,"v":0.000712,"dir":"up"}
]
},
"vconcat":[
{
"width":1225,"height":484,
"layer":[
{"data":{"name":"last"},"mark":{"type":"rule","color":"#c00000","strokeWidth":1,"clip":true},
 "encoding":{"y":{"field":"price","type":"quantitative","scale":{"domain":[1.03357,1.05172],"nice":false,"zero":false},
   "axis":{"orient":"right","title":null,"values":[1.0348,1.036,1.0372,1.0384,1.0396,1.0408,1.042,1.0432,1.0444,1.0456,1.0468,1.048,1.0492,1.0504,1.0516],"tickCount":40,"format":".5f","grid":true,"tickSize":3,"labelPadding":3,"labelFontSize":10,"labelOverlap":false,"labelBound":false,"labelFlush":false}}}},
{"data":{"name":"candles"},"mark":{"type":"rule","color":"black","strokeWidth":1,"clip":true},
 "encoding":{"x":{"field":"i","type":"quantitative","scale":{"domain":[-0.0625,153.0625],"nice":false,"zero":false},
   "axis":{"title":null,"values":[0,4,8,12,16,20,24,28,32,36,40,44,48,52,56,60,64,68,72,76,80,84,88,92,96,100,104,108,112,116,120,124,128,132,136,140,144,148,152],"tickCount":80,"grid":true,"labels":false,"ticks":false,"domain":false}},
  "y":{"field":"low","type":"quantitative","scale":{"domain":[1.03357,1.05172],"nice":false,"zero":false}},"y2":{"field":"high"}}},
{"data":{"name":"candles"},"mark":{"type":"bar","width":4,"stroke":"black","strokeWidth":1,"clip":true},
 "encoding":{"x":{"field":"i","type":"quantitative"},"y":{"field":"open","type":"quantitative"},"y2":{"field":"close"},
  "fill":{"condition":{"test":"datum.close >= datum.open","value":"white"},"value":"black"}}},
{"data":{"name":"alligator"},"mark":{"type":"line","strokeWidth":2,"clip":true},
 "encoding":{"x":{"field":"i","type":"quantitative"},"y":{"field":"v","type":"quantitative"},
  "color":{"field":"line","type":"nominal","scale":{"domain":["jaw","teeth","lips"],"range":["#1655d6","#f41414","#38c438"]},"legend":null}}},
{"data":{"name":"fractals"},"mark":{"type":"point","filled":true,"opacity":1,"color":"#1a1a1a","size":121,"clip":true},
 "encoding":{"x":{"field":"i","type":"quantitative"},"y":{"field":"v","type":"quantitative"},
  "shape":{"field":"type","type":"nominal","scale":{"domain":["up","down"],"range":["M0,-0.8L0.9,0.8L0,0.3L-0.9,0.8Z","M0,0.8L0.9,-0.8L0,-0.3L-0.9,-0.8Z"]},"legend":null}}},
{"data":{"name":"signal"},"mark":{"type":"point","shape":"M0,-1L0.85,-0.12L0.38,-0.12L0.38,1L-0.38,1L-0.38,-0.12L-0.85,-0.12Z","size":361,"filled":true,"fill":"white","stroke":"#5cd040","strokeWidth":1.3,"opacity":1,"clip":true},
 "encoding":{"x":{"field":"i","type":"quantitative"},"y":{"field":"v","type":"quantitative"}}},
{"data":{"name":"last"},"mark":{"type":"bar","orient":"horizontal","height":11,"color":"#c80000","clip":false},
 "encoding":{"x":{"datum":153.4,"type":"quantitative"},"x2":{"datum":158.6},"y":{"field":"price","type":"quantitative"}}},
{"data":{"name":"last"},"mark":{"type":"text","color":"white","font":"Liberation Sans","fontSize":10,"align":"center","baseline":"middle","clip":false},
 "encoding":{"x":{"datum":156.0,"type":"quantitative"},"y":{"field":"price","type":"quantitative"},"text":{"field":"price","type":"quantitative","format":".5f"}}}
]
},
{
"width":1225,"height":102,
"layer":[
{"data":{"name":"ao"},"mark":{"type":"bar","width":4,"clip":true},
 "encoding":{"x":{"field":"i","type":"quantitative","scale":{"domain":[-0.0625,153.0625],"nice":false,"zero":false},
   "axis":{"title":null,"values":[0,4,8,12,16,20,24,28,32,36,40,44,48,52,56,60,64,68,72,76,80,84,88,92,96,100,104,108,112,116,120,124,128,132,136,140,144,148,152],"tickCount":80,"grid":true,"labels":false,"ticks":false,"domain":false}},
  "y":{"field":"v","type":"quantitative","scale":{"domain":[-0.013133,0.006477],"nice":false,"zero":false},
   "axis":{"orient":"right","title":null,"values":[-0.013133,0,0.006477],"tickCount":10,"labelExpr":"replace(format(datum.value, '.6f'), '\u2212', '-')","labelFlush":true,"tickSize":3,"labelPadding":3,"grid":true,"gridOpacity":{"condition":{"test":"datum.value === 0","value":1},"value":0}}},
  "y2":{"datum":0},
  "color":{"field":"dir","type":"nominal","scale":{"domain":["up","down"],"range":["#008000","#ff0000"]},"legend":null}}},
{"mark":{"type":"text","align":"left","baseline":"middle","font":"Liberation Sans","fontSize":9.5,"color":"black"},
 "encoding":{"x":{"datum":0.45,"type":"quantitative"},"y":{"datum":0.004843,"type":"quantitative"},"text":{"value":"AO 0.001752"}}}
]
},
{
"width":1225,"height":101,
"layer":[
{"data":{"name":"ac"},"mark":{"type":"bar","width":4,"clip":true},
 "encoding":{"x":{"field":"i","type":"quantitative","scale":{"domain":[-0.0625,153.0625],"nice":false,"zero":false},
   "axis":{"title":null,"values":[0,4,8,12,16,20,24,28,32,36,40,44,48,52,56,60,64,68,72,76,80,84,88,92,96,100,104,108,112,116,120,124,128,132,136,140,144,148,152],"tickCount":80,"grid":true,"labels":false,"ticks":false,"domain":false}},
  "y":{"field":"v","type":"quantitative","scale":{"domain":[-0.004754,0.0023393],"nice":false,"zero":false},
   "axis":{"orient":"right","title":null,"values":[-0.004754,0,0.0023393],"tickCount":10,"labelExpr":"replace(format(datum.value, '.7f'), '\u2212', '-')","labelFlush":true,"tickSize":3,"labelPadding":3,"grid":true,"gridOpacity":{"condition":{"test":"datum.value === 0","value":1},"value":0}}},
  "y2":{"datum":0},
  "color":{"field":"dir","type":"nominal","scale":{"domain":["up","down"],"range":["#008000","#ff0000"]},"legend":null}}},
{"mark":{"type":"text","align":"left","baseline":"middle","font":"Liberation Sans","fontSize":9.5,"color":"black"},
 "encoding":{"x":{"datum":0.45,"type":"quantitative"},"y":{"datum":0.001721,"type":"quantitative"},"text":{"value":"AC 0.0003077"}}}
]
},
{
"width":1225,"height":84,
"layer":[
{"data":{"name":"gator"},"mark":{"type":"bar","width":4,"clip":true},
 "encoding":{"x":{"field":"i","type":"quantitative","scale":{"domain":[-0.0625,153.0625],"nice":false,"zero":false},
   "axis":{"title":null,"values":[0,4,8,12,16,20,24,28,32,36,40,44,48,52,56,60,64,68,72,76,80,84,88,92,96,100,104,108,112,116,120,124,128,132,136,140,144,148,152],"tickCount":80,"grid":true,"domain":false,
    "labelExpr":"(datum.value % 8 === 0 && datum.value <= 136) ? ['18 Dec 2024','18 Dec 13:00','18 Dec 21:00','19 Dec 05:00','19 Dec 13:00','19 Dec 21:00','20 Dec 05:00','20 Dec 13:00','20 Dec 21:00','23 Dec 05:00','23 Dec 13:00','23 Dec 21:00','24 Dec 05:00','24 Dec 13:00','24 Dec 21:00','26 Dec 06:00','26 Dec 14:00','26 Dec 22:00'][datum.value / 8] : ''",
    "labelAlign":"left","labelBaseline":"top","labelPadding":-3,"labelOffset":1,"labelFlush":false,"labelBound":false,"labelOverlap":false,
    "tickSize":4,"tickOpacity":{"condition":{"test":"datum.value % 8 === 0 && datum.value <= 136","value":1},"value":0}}},
  "y":{"field":"v","type":"quantitative","scale":{"domain":[-0.006017,0.005853],"nice":false,"zero":false},
   "axis":{"orient":"right","title":null,"values":[-0.006017,0,0.005853],"tickCount":10,"labelExpr":"replace(format(datum.value, '.6f'), '\u2212', '-')","labelFlush":true,"tickSize":3,"labelPadding":3,"grid":true,"gridOpacity":{"condition":{"test":"datum.value === 0","value":1},"value":0}}},
  "y2":{"datum":0},
  "color":{"field":"dir","type":"nominal","scale":{"domain":["up","down"],"range":["#008000","#ff0000"]},"legend":null}}},
{"mark":{"type":"text","align":"left","baseline":"middle","font":"Liberation Sans","fontSize":9.5,"color":"black"},
 "encoding":{"x":{"datum":0.45,"type":"quantitative"},"y":{"datum":0.004609,"type":"quantitative"},"text":{"value":"Gator(13,8,5) 0.000712 0.000000"}}}
]
}
]
}
